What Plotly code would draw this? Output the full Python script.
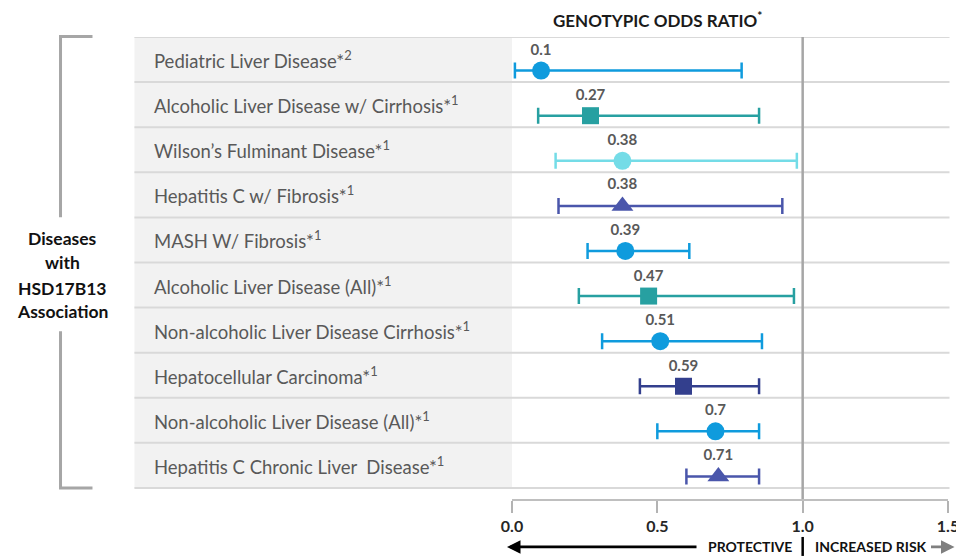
import plotly.graph_objects as go

# ---------------- data ----------------
diseases = [
    "Pediatric Liver Disease*<sup>2</sup>",
    "Alcoholic Liver Disease w/ Cirrhosis*<sup>1</sup>",
    "Wilson’s Fulminant Disease*<sup>1</sup>",
    "Hepatitis C w/ Fibrosis*<sup>1</sup>",
    "MASH W/ Fibrosis*<sup>1</sup>",
    "Alcoholic Liver Disease (All)*<sup>1</sup>",
    "Non-alcoholic Liver Disease Cirrhosis*<sup>1</sup>",
    "Hepatocellular Carcinoma*<sup>1</sup>",
    "Non-alcoholic Liver Disease (All)*<sup>1</sup>",
    "Hepatitis C Chronic Liver&nbsp; Disease*<sup>1</sup>",
]
odds_ratio = [0.1, 0.27, 0.38, 0.38, 0.39, 0.47, 0.51, 0.59, 0.7, 0.71]
ci_low = [0.01, 0.09, 0.15, 0.16, 0.26, 0.23, 0.31, 0.44, 0.50, 0.60]
ci_high = [0.79, 0.85, 0.98, 0.93, 0.61, 0.97, 0.86, 0.85, 0.85, 0.85]
marker_symbols = ["circle", "square", "circle", "triangle-up", "circle",
                  "square", "circle", "square", "circle", "triangle-up"]
marker_colors = ["#0f9bdd", "#27a0a1", "#74dce7", "#4a56ab", "#0f9bdd",
                 "#27a0a1", "#0f9bdd", "#333f8d", "#0f9bdd", "#4a56ab"]
x_ticks = [0.0, 0.5, 1.0, 1.5]
x_tick_labels = ["0.0", "0.5", "1.0", "1.5"]
bracket_lines = ["Diseases", "with", "HSD17B13", "Association"]

# ---------------- layout constants ----------------
W, H = 956, 556
ML, MR, MT, MB = 512, 7.5, 36.5, 57
PW = W - ML - MR
PH = H - MT - MB
SHIFT = 0.245          # marker offset below row centre (rows are 1 unit tall)
N = len(diseases)


def px_x(px):
    return (px - ML) / PW


def px_y(py):
    return (H - MB - py) / PH


sizes = {"circle": 18, "square": 17, "triangle-up": 19}

fig = go.Figure()
for i in range(N):
    v = odds_ratio[i]
    fig.add_trace(go.Scatter(
        x=[v], y=[i],
        mode="markers+text",
        text=[f"<b>{v}</b>"],
        textposition="top center",
        textfont=dict(family="Lato", size=15, color="#595959"),
        marker=dict(symbol=marker_symbols[i], size=sizes[marker_symbols[i]],
                    color=marker_colors[i], line=dict(width=0)),
        error_x=dict(type="data", symmetric=False,
                     array=[ci_high[i] - v], arrayminus=[v - ci_low[i]],
                     color=marker_colors[i], thickness=2.5, width=8),
        cliponaxis=False,
        showlegend=False,
        hoverinfo="skip",
    ))

shapes = []
# grey label background
shapes.append(dict(type="rect", xref="paper", yref="y",
                   x0=px_x(134), x1=0, y0=-0.5 - SHIFT, y1=N - 0.5 - SHIFT,
                   fillcolor="#f2f2f2", line=dict(width=0), layer="below"))
# row separators
for k in range(N + 1):
    yy = k - 0.5 - SHIFT
    shapes.append(dict(type="line", xref="paper", yref="y",
                       x0=px_x(134), x1=px_x(950), y0=yy, y1=yy,
                       line=dict(color="#d9d9d9", width=2), layer="below"))
# reference line at 1.0
shapes.append(dict(type="line", xref="x", yref="y",
                   x0=1.0, x1=1.0, y0=-0.5 - SHIFT, y1=N - 0.5,
                   line=dict(color="#a6a6a6", width=2.5), layer="below"))
# left bracket
bx0, bx1 = px_x(60), px_x(92)
shapes.append(dict(type="path", xref="paper", yref="paper",
                   path=f"M {bx1} {px_y(36)} L {bx0} {px_y(36)} L {bx0} {px_y(217)}",
                   line=dict(color="#a6a6a6", width=3)))
shapes.append(dict(type="path", xref="paper", yref="paper",
                   path=f"M {bx0} {px_y(331)} L {bx0} {px_y(488)} L {bx1} {px_y(488)}",
                   line=dict(color="#a6a6a6", width=3)))
# divider between PROTECTIVE / INCREASED RISK
shapes.append(dict(type="line", xref="x", yref="paper",
                   x0=1.0, x1=1.0, y0=px_y(537), y1=px_y(556),
                   line=dict(color="#000000", width=2.5)))

annotations = []
for i in range(N):
    annotations.append(dict(
        text=diseases[i], xref="paper", yref="y",
        x=px_x(152), y=i - SHIFT, xanchor="left", yanchor="middle",
        showarrow=False, font=dict(family="Lato", size=18.5, color="#595959")))

for line_text, ypx in zip(bracket_lines, [238, 262.7, 288, 311.7]):
    annotations.append(dict(
        text=f"<b>{line_text}</b>",
        xref="paper", yref="paper", x=px_x(62), y=px_y(ypx),
        xanchor="center", yanchor="middle", align="center", showarrow=False,
        font=dict(family="Lato", size=17.5, color="#111111")))

annotations.append(dict(
    text="<b>GENOTYPIC ODDS RATIO<sup>*</sup></b>",
    xref="x", yref="paper", x=0.5, y=px_y(19),
    xanchor="center", yanchor="middle", showarrow=False,
    font=dict(family="Lato", size=17, color="#1a1a1a")))

# arrows and direction labels
annotations.append(dict(
    text="", xref="paper", yref="paper", x=px_x(507), y=px_y(547),
    ax=191, ay=0, axref="pixel", ayref="pixel", showarrow=True,
    arrowhead=2, arrowsize=1, arrowwidth=2.7, arrowcolor="#000000"))
annotations.append(dict(
    text="<b>PROTECTIVE</b>", xref="paper", yref="paper",
    x=px_x(794), y=px_y(547), xanchor="right", yanchor="middle",
    showarrow=False, font=dict(family="Lato", size=14, color="#111111")))
annotations.append(dict(
    text="<b>INCREASED RISK</b>", xref="paper", yref="paper",
    x=px_x(813), y=px_y(547), xanchor="left", yanchor="middle",
    showarrow=False, font=dict(family="Lato", size=14, color="#111111")))
annotations.append(dict(
    text="", xref="paper", yref="paper", x=px_x(955), y=px_y(547),
    ax=-25, ay=0, axref="pixel", ayref="pixel", showarrow=True,
    arrowhead=2, arrowsize=1, arrowwidth=2.7, arrowcolor="#7f7f7f"))

fig.update_layout(
    width=W, height=H,
    margin=dict(l=ML, r=MR, t=MT, b=MB, pad=0, autoexpand=False),
    paper_bgcolor="white", plot_bgcolor="white",
    shapes=shapes, annotations=annotations,
    xaxis=dict(range=[0, 1.5], tickvals=x_ticks, ticktext=x_tick_labels,
               showgrid=False, zeroline=False, showline=True,
               linecolor="#bfbfbf", linewidth=2,
               ticks="outside", ticklen=12, tickwidth=2, tickcolor="#b3b3b3",
               ticklabeloverflow="allow", automargin=False,
               tickfont=dict(family="Lato", size=16, color="#262626", weight="bold"),
               fixedrange=True),
    yaxis=dict(range=[N - 0.5, -0.5 - SHIFT], showgrid=False, zeroline=False,
               showticklabels=False, showline=False, ticks="", fixedrange=True,
               automargin=False),
)

fig.write_html(
    "out.html",
    config={"displayModeBar": False},
    post_script="document.body.style.margin='0';document.body.style.overflow='hidden';",
)
